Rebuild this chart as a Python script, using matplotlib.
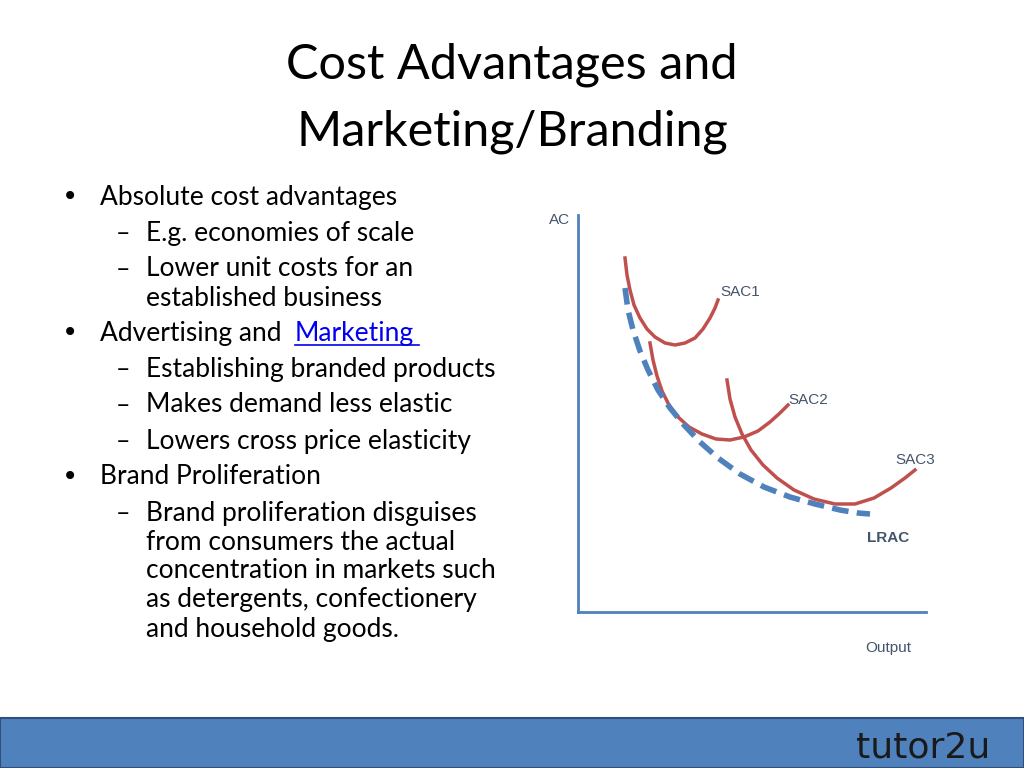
import matplotlib.pyplot as plt
from matplotlib.patches import Rectangle

W, H = 1024, 768

# chart data (output, average cost)
sac1_q = [47, 49, 52, 56, 62, 69, 77, 87, 97, 107, 117, 125, 132, 137, 140]
sac1_c = [354, 337, 322, 307, 294, 283, 275, 269, 267, 269, 274, 283, 294, 304, 312]
sac2_q = [72, 75, 79, 84, 91, 100, 111, 124, 138, 152, 166, 180, 192, 202, 210]
sac2_c = [269, 252, 236, 221, 207, 195, 185, 178, 173, 172, 175, 181, 190, 199, 207]
sac3_q = [149, 152, 157, 164, 173, 185, 199, 216, 236, 257, 277, 296, 313, 327, 337]
sac3_c = [232, 213, 195, 178, 162, 147, 134, 122, 113, 108, 108, 114, 124, 134, 142]
lrac_q = [47, 50, 55, 62, 70, 80, 92, 106, 122, 140, 162, 186, 212, 237, 262, 280, 292]
lrac_c = [324, 302, 282, 261, 242, 222, 204, 187, 170, 154, 138, 125, 115, 108, 102, 99, 98]

title_lines = ["Cost Advantages and", "Marketing/Branding"]
bullets = [
    (0, ["Absolute cost advantages"], 197),
    (1, ["E.g. economies of scale"], 233),
    (1, ["Lower unit costs for an", "established business"], 269),
    (0, ["Advertising and"], 333),
    (1, ["Establishing branded products"], 369),
    (1, ["Makes demand less elastic"], 405),
    (1, ["Lowers cross price elasticity"], 441),
    (0, ["Brand Proliferation"], 477),
    (1, ["Brand proliferation disguises", "from consumers the actual",
         "concentration in markets such", "as detergents, confectionery",
         "and household goods."], 513),
]

fig = plt.figure(figsize=(W / 100, H / 100), dpi=100)
bg = fig.add_axes([0, 0, 1, 1])
bg.set_xlim(0, W)
bg.set_ylim(H, 0)
bg.axis("off")

font = "Lato"
for i, line in enumerate(title_lines):
    bg.text(512, 65 + 67 * i, line, ha="center", va="center", fontsize=35, family=font, color="black")

for level, lines, y in bullets:
    if level == 0:
        bg.text(62, y, "•", ha="left", va="center", fontsize=20, family="DejaVu Sans")
        x = 100
    else:
        bg.text(116, y, "–", ha="left", va="center", fontsize=18, family=font)
        x = 146
    for k, txt in enumerate(lines):
        bg.text(x, y + 29 * k, txt, ha="left", va="center", fontsize=19, family=font)
bg.text(295, 333, "Marketing", ha="left", va="center", fontsize=19, family=font, color="#0000ee")
bg.plot([295, 419], [345, 345], color="#0000ee", lw=1.2)

# footer
bg.add_patch(Rectangle((0, 718), W, 50, facecolor="#4f81bd", edgecolor="#2f4f7f", lw=1.5))
bg.text(990, 748, "tutor2u", ha="right", va="center", fontsize=26, family="DejaVu Sans", color="#1a1a1a")

# chart
ax = fig.add_axes([578 / W, (H - 612) / H, (926 - 578) / W, (612 - 215) / H])
ax.set_xlim(0, 348)
ax.set_ylim(0, 397)
for s in ["top", "right"]:
    ax.spines[s].set_visible(False)
for s in ["left", "bottom"]:
    ax.spines[s].set_color("#4f81bd")
    ax.spines[s].set_linewidth(2)
ax.set_xticks([])
ax.set_yticks([])
ax.patch.set_alpha(0)

red = "#c0504d"
ax.plot(sac1_q, sac1_c, color=red, lw=2.5)
ax.plot(sac2_q, sac2_c, color=red, lw=2.5)
ax.plot(sac3_q, sac3_c, color=red, lw=2.5)
ax.plot(lrac_q, lrac_c, color="#4f81bd", lw=4, dashes=(3, 1.5))

lab = dict(fontsize=11, color="#44546a", family="Liberation Sans")
bg.text(560, 220, "AC", ha="center", va="center", **lab)
bg.text(740, 292, "SAC1", ha="center", va="center", **lab)
bg.text(808, 400, "SAC2", ha="center", va="center", **lab)
bg.text(915, 460, "SAC3", ha="center", va="center", **lab)
bg.text(888, 538, "LRAC", ha="center", va="center", fontweight="bold", **lab)
bg.text(888, 648, "Output", ha="center", va="center", **lab)

fig.savefig("out.png", dpi=100)
